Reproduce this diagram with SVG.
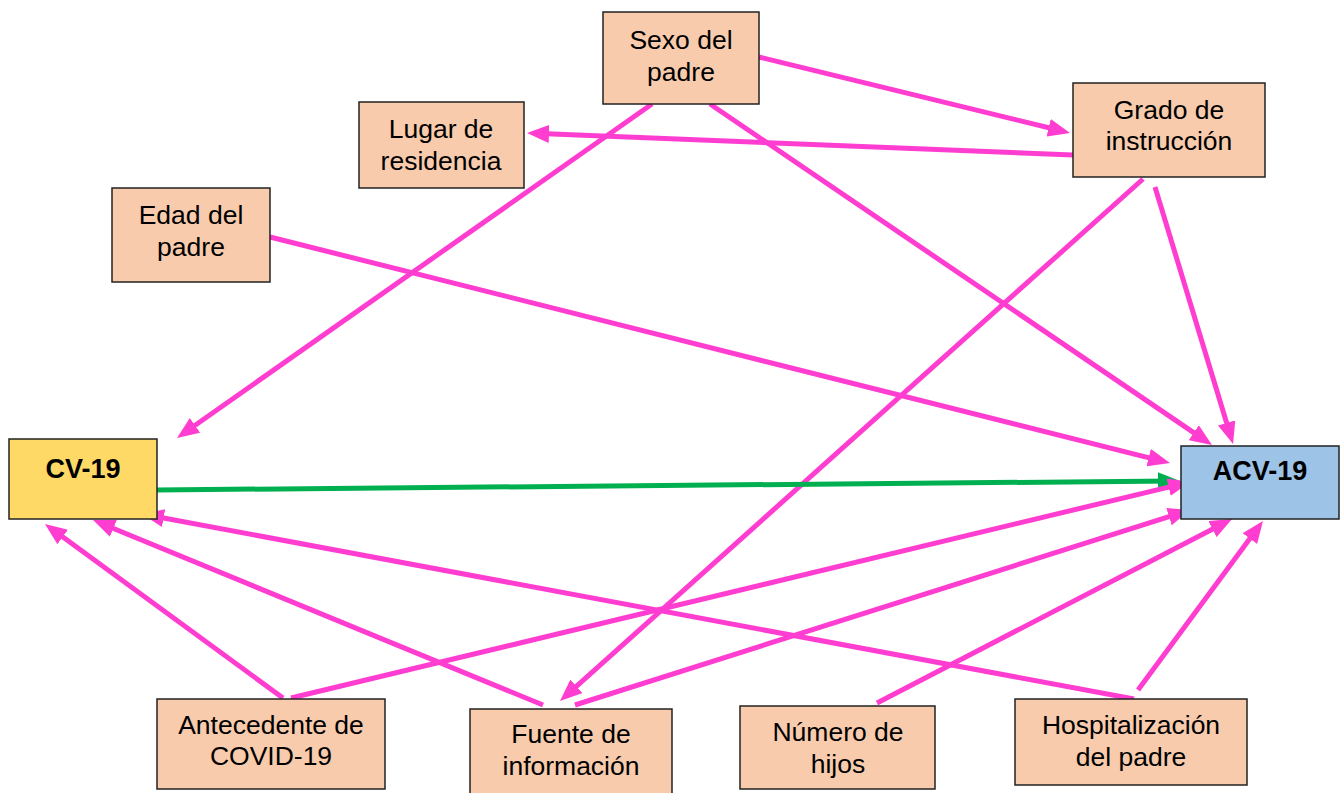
<svg xmlns="http://www.w3.org/2000/svg" width="1344" height="793" viewBox="0 0 1344 793">
<style>
.box{fill:#F8CBAD;stroke:#222;stroke-width:1.5}
.t{font-family:"Liberation Sans",Arial,sans-serif;font-size:26.5px;fill:#000;text-anchor:middle}
.b{font-weight:bold;font-size:27px}
.p{stroke:#FF3DD0;stroke-width:5;fill:none;marker-end:url(#mp)}
.g{stroke:#00B050;stroke-width:5;fill:none;marker-end:url(#mg)}
</style>
<defs>
<marker id="mp" markerUnits="userSpaceOnUse" viewBox="0 0 22 18" markerWidth="22" markerHeight="18" refX="15" refY="9" orient="auto"><path d="M0,0 L22,9 L0,18 z" fill="#FF3DD0"/></marker>
<marker id="mg" markerUnits="userSpaceOnUse" viewBox="0 0 22 18" markerWidth="22" markerHeight="18" refX="15" refY="9" orient="auto"><path d="M0,0 L22,9 L0,18 z" fill="#00B050"/></marker>
</defs>
<rect width="1344" height="793" fill="#fff"/>
<g id="connectors">
<line class="p" x1="759" y1="57" x2="1063.2" y2="131.3"/>
<line class="p" x1="1073" y1="155" x2="534" y2="133.3"/>
<line class="p" x1="652" y1="104" x2="182.7" y2="434"/>
<line class="p" x1="710" y1="104" x2="1206.2" y2="441.1"/>
<line class="p" x1="270" y1="237" x2="1163.2" y2="461.3"/>
<line class="p" x1="1143" y1="179" x2="565.2" y2="696.3"/>
<line class="p" x1="1155" y1="187" x2="1231" y2="437.3"/>
<line class="g" x1="157" y1="490" x2="1173" y2="481"/>
<line class="p" x1="283" y1="698" x2="50.6" y2="528.1"/>
<line class="p" x1="291" y1="698" x2="1183.2" y2="483.6"/>
<line class="p" x1="543" y1="705" x2="99.5" y2="522.7"/>
<line class="p" x1="575" y1="705" x2="1183.3" y2="512.1"/>
<line class="p" x1="877" y1="703" x2="1225.8" y2="522.2"/>
<line class="p" x1="1138" y1="690" x2="1258.8" y2="526.6"/>
<line class="p" x1="1134" y1="699" x2="148.9" y2="515.3"/>
</g>
<g id="sexo"><rect class="box" x="603" y="12" width="156" height="92"/><text class="t" x="681" y="49">Sexo del</text><text class="t" x="681" y="81">padre</text></g>
<g id="lugar"><rect class="box" x="359" y="102" width="165" height="86"/><text class="t" x="441" y="138">Lugar de</text><text class="t" x="441" y="170">residencia</text></g>
<g id="edad"><rect class="box" x="112" y="188" width="158" height="94"/><text class="t" x="191" y="224">Edad del</text><text class="t" x="191" y="256">padre</text></g>
<g id="grado"><rect class="box" x="1073" y="83" width="192" height="94"/><text class="t" x="1169" y="119">Grado de</text><text class="t" x="1169" y="150">instrucción</text></g>
<g id="cv19"><rect x="9" y="439" width="148" height="80" fill="#FFD966" stroke="#222" stroke-width="1.5"/><text class="t b" x="83" y="478">CV-19</text></g>
<g id="acv19"><rect x="1181" y="446" width="158" height="73" fill="#9DC3E6" stroke="#222" stroke-width="1.5"/><text class="t b" x="1260" y="480">ACV-19</text></g>
<g id="antecedente"><rect class="box" x="157" y="699" width="228" height="90"/><text class="t" x="271" y="734">Antecedente de</text><text class="t" x="271" y="765">COVID-19</text></g>
<g id="fuente"><rect class="box" x="470" y="709" width="202" height="90"/><text class="t" x="571" y="743">Fuente de</text><text class="t" x="571" y="775">información</text></g>
<g id="numero"><rect class="box" x="740" y="706" width="195" height="83"/><text class="t" x="838" y="741">Número de</text><text class="t" x="838" y="773">hijos</text></g>
<g id="hospitalizacion"><rect class="box" x="1015" y="699" width="232" height="86"/><text class="t" x="1131" y="734">Hospitalización</text><text class="t" x="1131" y="766">del padre</text></g>
</svg>
